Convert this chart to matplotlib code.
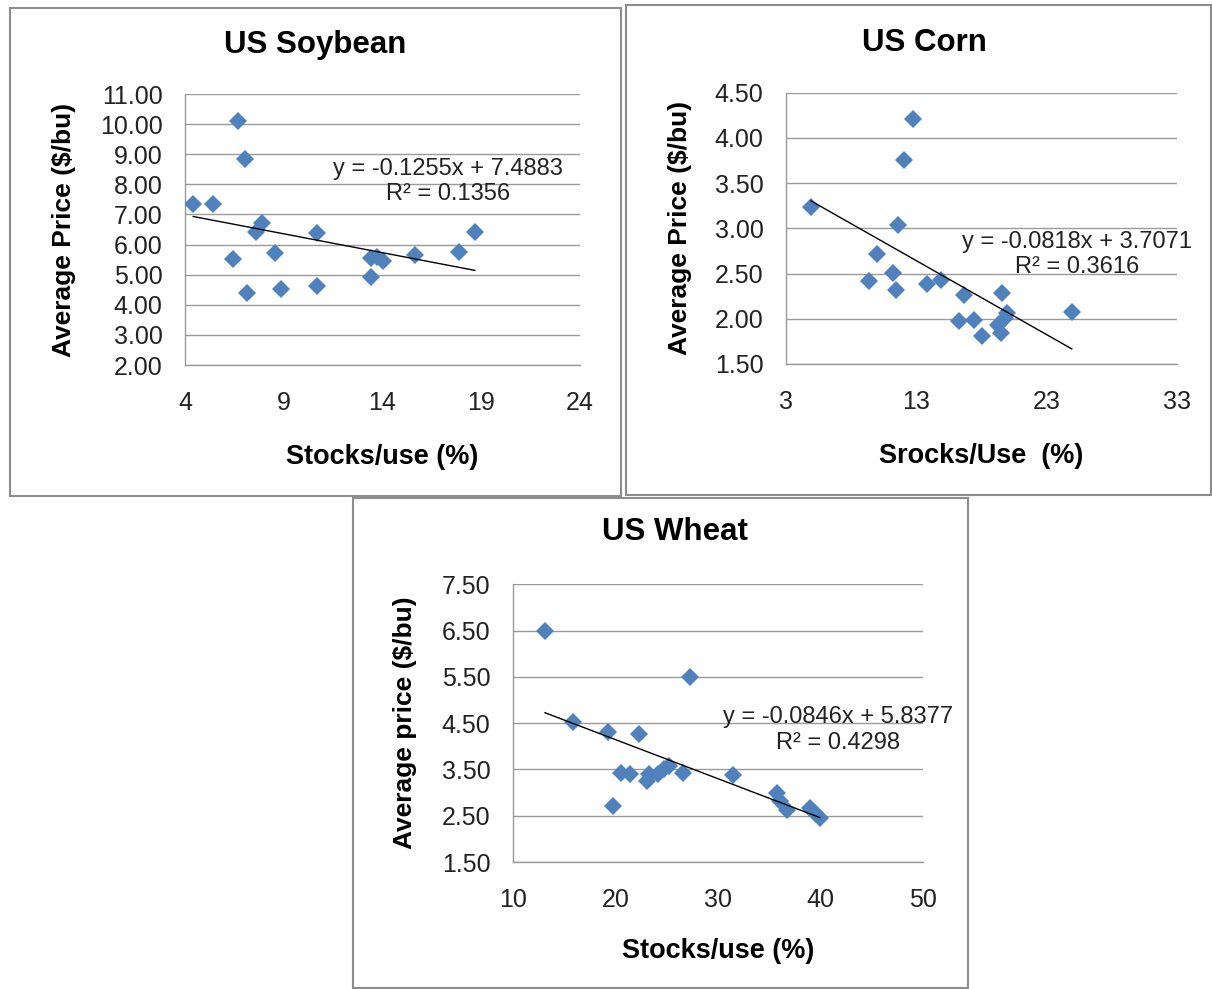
import matplotlib
matplotlib.use("Agg")
import matplotlib.pyplot as plt
from matplotlib.patches import Rectangle

plt.rcParams["font.family"] = ["Liberation Sans", "DejaVu Sans"]

# US Soybean: stocks/use (%) vs average price ($/bu)
soy_x = [4.42, 5.40, 6.70, 7.04, 6.41, 7.12, 7.59, 7.88, 8.56, 8.84,
         10.67, 10.70, 13.40, 13.40, 13.72, 14.04, 15.65, 17.89, 18.68]
soy_y = [7.34, 7.34, 10.10, 8.84, 5.52, 4.38, 6.43, 6.73, 5.73, 4.52,
         6.40, 4.62, 5.54, 4.93, 5.58, 5.45, 5.67, 5.74, 6.43]
soy_fit = (-0.1255, 7.4883, 0.1356)

# US Corn
corn_x = [4.94, 12.74, 12.10, 11.60, 10.03, 11.21, 9.39, 11.44, 13.87, 14.89,
          16.71, 16.33, 17.46, 18.04, 19.63, 20.01, 19.27, 19.53, 19.80, 24.95]
corn_y = [3.24, 4.21, 3.76, 3.04, 2.72, 2.51, 2.42, 2.32, 2.38, 2.43,
          2.26, 1.97, 1.99, 1.81, 2.29, 2.06, 1.93, 1.84, 2.01, 2.07]
corn_fit = (-0.0818, 3.7071, 0.3616)

# US Wheat
wheat_x = [13.15, 27.27, 15.84, 19.31, 22.30, 19.74, 20.55, 21.42, 23.05, 23.30,
           24.18, 24.73, 25.25, 26.55, 31.48, 35.70, 36.03, 36.68, 38.95, 39.43, 39.92]
wheat_y = [6.49, 5.49, 4.53, 4.30, 4.26, 2.72, 3.43, 3.40, 3.26, 3.40,
           3.40, 3.50, 3.58, 3.42, 3.37, 2.99, 2.81, 2.63, 2.66, 2.56, 2.45]
wheat_fit = (-0.0846, 5.8377, 0.4298)

BLUE = "#4F81BD"
GRID = "#9a9a9a"
W, H = 1212, 989

fig = plt.figure(figsize=(W / 100, H / 100), dpi=100)

# panel frames (pixel boxes: left, top, right, bottom)
for l, t, r, b in [(10, 8, 621, 496), (626, 5, 1211, 495), (353, 498, 968, 988)]:
    fig.add_artist(Rectangle((l / W, 1 - b / H), (r - l) / W, (b - t) / H,
                             transform=fig.transFigure, fill=False,
                             edgecolor="#8c8c8c", linewidth=1.5))


def panel(rect, xs, ys, fit, title, title_xy, xlabel, ylabel, xlim, xticks,
          ylim, yticks, eq_pos, xlab_y, ylab_x):
    ax = fig.add_axes(rect)
    ax.plot(xs, ys, linestyle="none", marker="D", markersize=9.5,
            color=BLUE, markeredgewidth=0, zorder=3)
    slope, icpt, r2 = fit
    x0, x1 = min(xs), max(xs)
    ax.plot([x0, x1], [slope * x0 + icpt, slope * x1 + icpt],
            color="black", linewidth=1, zorder=4)
    ax.set_xlim(*xlim)
    ax.set_ylim(*ylim)
    ax.set_xticks(xticks)
    ax.set_xticklabels([str(v) for v in xticks])
    ax.set_yticks(yticks)
    ax.set_yticklabels([f"{v:.2f}" for v in yticks])
    ax.grid(axis="y", color=GRID, linewidth=1)
    ax.set_axisbelow(True)
    for s in ["top", "right"]:
        ax.spines[s].set_visible(False)
    for s in ["left", "bottom"]:
        ax.spines[s].set_color(GRID)
        ax.spines[s].set_linewidth(1)
    ax.tick_params(length=0, labelsize=18, colors="#222222")
    ax.tick_params(axis="x", pad=19)
    ax.tick_params(axis="y", pad=16)
    ax.set_xlabel(xlabel, fontsize=19.5, fontweight="bold")
    ax.set_ylabel(ylabel, fontsize=19, fontweight="bold")
    ax.xaxis.set_label_coords(0.5, xlab_y)
    ax.yaxis.set_label_coords(ylab_x, 0.5)
    fig.text(title_xy[0] / W, 1 - title_xy[1] / H, title, fontsize=22.5,
             fontweight="bold", ha="center", va="center")
    sign = "+" if icpt >= 0 else "-"
    ax.text(eq_pos[0], eq_pos[1], f"y = {slope:.4f}x {sign} {abs(icpt):.4f}",
            transform=ax.transAxes, ha="center", va="center", fontsize=17,
            color="#222222", clip_on=False)
    ax.text(eq_pos[0], eq_pos[2], f"R² = {r2:.4f}",
            transform=ax.transAxes, ha="center", va="center", fontsize=17,
            color="#222222", clip_on=False)
    return ax


panel([0.1526, 0.6309, 0.3259, 0.2740], soy_x, soy_y, soy_fit,
      "US Soybean", (315, 45), "Stocks/use (%)", "Average Price ($/bu)",
      (4, 24), [4, 9, 14, 19, 24], (2, 11), list(range(2, 12)),
      (0.667, 0.723, 0.631), -0.29, -0.275)

panel([0.6483, 0.6320, 0.3226, 0.2743], corn_x, corn_y, corn_fit,
      "US Corn", (924, 43), "Srocks/Use  (%)", "Average Price ($/bu)",
      (3, 33), [3, 13, 23, 33], (1.5, 4.5), [1.5, 2.0, 2.5, 3.0, 3.5, 4.0, 4.5],
      (0.744, 0.450, 0.358), -0.29, -0.24)

panel([0.4230, 0.1284, 0.3388, 0.2808], wheat_x, wheat_y, wheat_fit,
      "US Wheat", (675, 532), "Stocks/use (%)", "Average price ($/bu)",
      (10, 50), [10, 20, 30, 40, 50], (1.5, 7.5), [1.5, 2.5, 3.5, 4.5, 5.5, 6.5, 7.5],
      (0.793, 0.522, 0.429), -0.275, -0.233)

fig.savefig("out.png", dpi=100, facecolor="white")
